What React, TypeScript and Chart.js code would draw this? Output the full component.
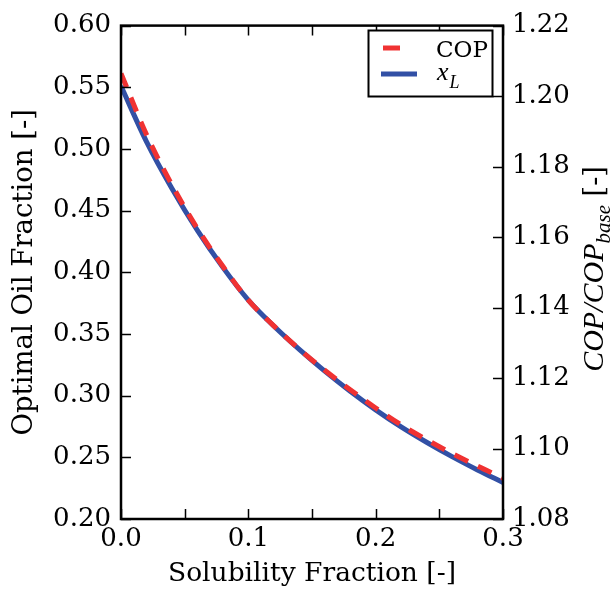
import React, { useEffect, useRef } from 'react';
import { Chart, registerables } from 'chart.js';

Chart.register(...registerables);

// ---- data ----
const solubility = [0.0, 0.02, 0.04, 0.06, 0.08, 0.10, 0.12, 0.14, 0.16, 0.18, 0.20, 0.22, 0.24, 0.26, 0.28, 0.30];
const oilFraction = [0.551, 0.506, 0.468, 0.434, 0.404, 0.3775, 0.3565, 0.3375, 0.3199, 0.3036, 0.2885, 0.2747, 0.2622, 0.2506, 0.2398, 0.2296];
const copRatio = [1.2064, 1.1891, 1.1748, 1.1624, 1.1517, 1.1421, 1.1348, 1.1282, 1.1222, 1.1167, 1.1115, 1.1067, 1.1025, 1.0986, 1.095, 1.0916];

const xRange = [0, 0.3];
const xStep = 0.05;
const xLabelStep = 0.1;
const leftRange = [0.2, 0.6];
const leftStep = 0.05;
const rightRange = [1.08, 1.22];
const rightStep = 0.02;

const xTitle = 'Solubility Fraction [-]';
const leftTitle = 'Optimal Oil Fraction [-]';
const legendLabels = ['COP', 'x', 'L'];

const RED = 'rgb(240,50,50)';
const BLUE = 'rgb(50,80,165)';
const FONT = '"DejaVu Serif", serif';
const TICK_SIZE = 26;

const overlayPlugin = {
  id: 'overlay',
  afterDraw(chart: any) {
    const { ctx, chartArea: a, scales } = chart;
    ctx.save();
    // ticks (inward)
    ctx.strokeStyle = '#000';
    ctx.lineWidth = 1.5;
    const tl = 10;
    ctx.beginPath();
    scales.x.ticks.forEach((t: any) => {
      const px = Math.round(scales.x.getPixelForValue(t.value)) + 0.5;
      ctx.moveTo(px, a.bottom);
      ctx.lineTo(px, a.bottom - tl);
      ctx.moveTo(px, a.top);
      ctx.lineTo(px, a.top + tl);
    });
    scales.y.ticks.forEach((t: any) => {
      const py = Math.round(scales.y.getPixelForValue(t.value)) + 0.5;
      ctx.moveTo(a.left, py);
      ctx.lineTo(a.left + tl, py);
    });
    scales.y1.ticks.forEach((t: any) => {
      const py = Math.round(scales.y1.getPixelForValue(t.value)) + 0.5;
      ctx.moveTo(a.right, py);
      ctx.lineTo(a.right - tl, py);
    });
    ctx.stroke();
    // frame
    ctx.lineWidth = 2.5;
    ctx.strokeRect(a.left, a.top, a.right - a.left, a.bottom - a.top);

    // legend
    const lx = 368, ly = 30, lw = 124, lh = 66;
    ctx.fillStyle = '#fff';
    ctx.fillRect(lx, ly, lw, lh);
    ctx.lineWidth = 2;
    ctx.strokeStyle = '#000';
    ctx.strokeRect(lx + 0.5, ly + 0.5, lw, lh);
    ctx.lineWidth = 5;
    ctx.strokeStyle = RED;
    ctx.beginPath();
    ctx.moveTo(383, 48);
    ctx.lineTo(400, 48);
    ctx.stroke();
    ctx.strokeStyle = BLUE;
    ctx.beginPath();
    ctx.moveTo(381, 74);
    ctx.lineTo(417, 74);
    ctx.stroke();
    ctx.fillStyle = '#000';
    ctx.textBaseline = 'alphabetic';
    ctx.textAlign = 'left';
    ctx.font = `23px ${FONT}`;
    ctx.fillText(legendLabels[0], 436, 57);
    ctx.font = `italic 26px "Liberation Serif", serif`;
    ctx.fillText(legendLabels[1], 437, 80);
    const xw = ctx.measureText(legendLabels[1]).width;
    ctx.font = `italic 18px "Liberation Serif", serif`;
    ctx.fillText(legendLabels[2], 437 + xw + 1, 88);

    // right axis title: COP/COP_base [-]
    const mainFont = `italic 30px "Liberation Serif", serif`;
    const subFont = `italic 21px "Liberation Serif", serif`;
    const brFont = `27px ${FONT}`;
    ctx.font = mainFont;
    const w1 = ctx.measureText('COP/COP').width;
    ctx.font = subFont;
    const w2 = ctx.measureText('base').width;
    ctx.font = brFont;
    const w3 = ctx.measureText(' [-]').width;
    const total = w1 + w2 + w3;
    ctx.translate(603, 269);
    ctx.rotate(-Math.PI / 2);
    let cx = -total / 2;
    ctx.font = mainFont;
    ctx.fillText('COP/COP', cx, 0);
    cx += w1;
    ctx.font = subFont;
    ctx.fillText('base', cx, 7);
    cx += w2;
    ctx.font = brFont;
    ctx.fillText(' [-]', cx, 0);
    ctx.restore();
  },
};

const isMultiple = (v: number, step: number) => Math.abs(v / step - Math.round(v / step)) < 1e-6;

export default function App() {
  const ref = useRef<HTMLCanvasElement | null>(null);
  useEffect(() => {
    const canvas = ref.current;
    if (!canvas) return;
    const chart = new Chart(canvas, {
      type: 'line',
      data: {
        datasets: [
          {
            label: 'COP',
            data: solubility.map((x, i) => ({ x, y: copRatio[i] })),
            yAxisID: 'y1',
            borderColor: RED,
            borderWidth: 5,
            borderDash: [15, 11],
            pointRadius: 0,
            cubicInterpolationMode: 'monotone',
            order: 0,
            clip: 0,
          },
          {
            label: 'x_L',
            data: solubility.map((x, i) => ({ x, y: oilFraction[i] })),
            yAxisID: 'y',
            borderColor: BLUE,
            borderWidth: 5,
            pointRadius: 0,
            cubicInterpolationMode: 'monotone',
            order: 1,
            clip: 0,
          },
        ],
      } as any,
      options: {
        animation: false,
        responsive: false,
        devicePixelRatio: 1,
        layout: { padding: { top: 19, left: 0, right: 0, bottom: 0 } },
        plugins: { legend: { display: false }, tooltip: { enabled: false } },
        scales: {
          x: {
            type: 'linear',
            position: 'bottom',
            min: xRange[0],
            max: xRange[1],
            grid: { display: false, drawTicks: false },
            border: { display: false },
            ticks: {
              stepSize: xStep,
              padding: 5,
              color: '#000',
              font: { family: FONT, size: TICK_SIZE },
              maxRotation: 0,
              autoSkip: false,
              callback: (v: any) => (isMultiple(Number(v), xLabelStep) ? Number(v).toFixed(1) : ''),
            },
            title: {
              display: true,
              text: xTitle,
              color: '#000',
              font: { family: FONT, size: 26.5 },
              padding: { top: 0, bottom: 0 },
            },
            afterFit: (s: any) => {
              s.height = 71;
            },
          },
          y: {
            type: 'linear',
            position: 'left',
            min: leftRange[0],
            max: leftRange[1],
            grid: { display: false, drawTicks: false },
            border: { display: false },
            ticks: {
              stepSize: leftStep,
              padding: 10,
              color: '#000',
              font: { family: FONT, size: TICK_SIZE },
              autoSkip: false,
              callback: (v: any) => Number(v).toFixed(2),
            },
            title: {
              display: true,
              text: leftTitle,
              color: '#000',
              font: { family: FONT, size: 27.5 },
              padding: { top: 8, bottom: 0 },
            },
            afterFit: (s: any) => {
              s.width = 121;
            },
          },
          y1: {
            type: 'linear',
            position: 'right',
            min: rightRange[0],
            max: rightRange[1],
            grid: { display: false, drawTicks: false },
            border: { display: false },
            ticks: {
              stepSize: rightStep,
              padding: 9,
              color: '#000',
              font: { family: FONT, size: TICK_SIZE },
              autoSkip: false,
              callback: (v: any) => Number(v).toFixed(2),
            },
            afterFit: (s: any) => {
              s.width = 113;
            },
          },
        },
      } as any,
      plugins: [overlayPlugin],
    });
    return () => chart.destroy();
  }, []);
  return (
    <div style={{ position: 'absolute', left: 0, top: 0, width: 616, height: 590, background: '#fff' }}>
      <canvas ref={ref} width={616} height={590} style={{ display: 'block', width: 616, height: 590 }} />
    </div>
  );
}
